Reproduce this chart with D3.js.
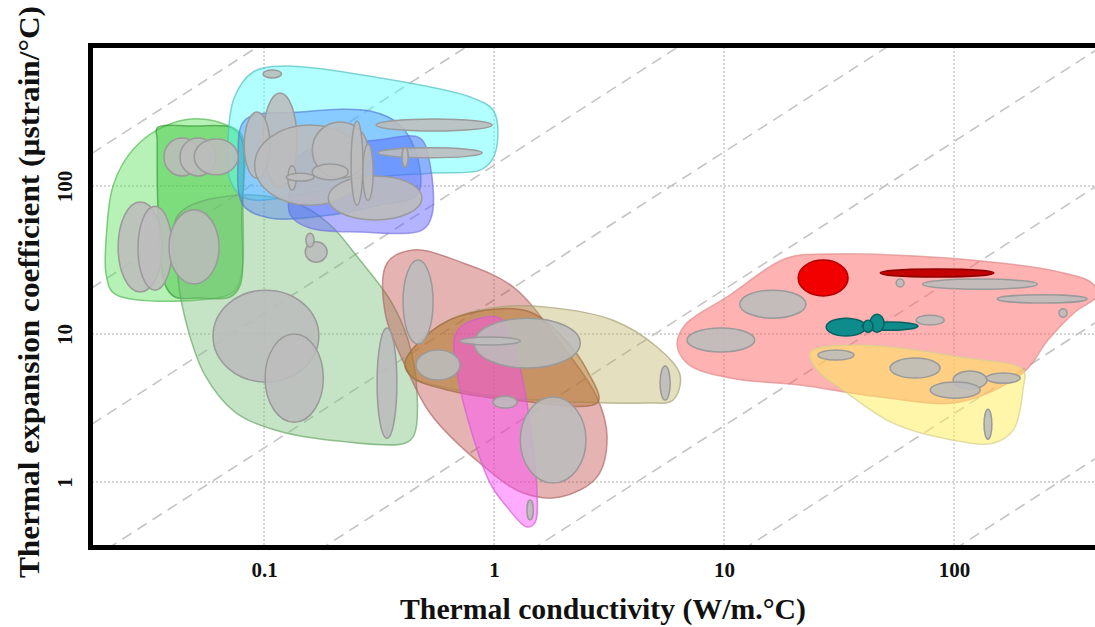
<!DOCTYPE html>
<html>
<head>
<meta charset="utf-8">
<script src="https://cdn.jsdelivr.net/npm/d3@7"></script>
<style>
body { margin:0; background:#fff; }
text { font-family:"Liberation Serif","Times New Roman",serif; font-weight:bold; fill:#111; }
</style>
</head>
<body>
<div id="chart"></div>
<script>
var W = 1095, H = 627;
var margin = {left:92, top:47, right:-5, bottom:81};

// ---- data ----
var xTicks = [0.1, 1, 10, 100];
var yTicks = [1, 10, 100];
var xTitle = "Thermal conductivity (W/m.\u00B0C)";
var yTitle = "Thermal expansion coefficient (\u00B5strain/\u00B0C)";

// guide lines: expansion / conductivity = const
var guideRatios = [9300, 1150, 138, 17, 2.0, 0.24, 0.029, 0.0035];

// envelopes, points [conductivity, expansion]
var envFoam = [[0.0207,50.4],[0.0218,94],[0.0249,150],[0.0304,211],[0.0402,267],[0.0527,284],[0.069,258],[0.080,221],[0.081,80.4],[0.0787,23.2],[0.0711,18.6],[0.0225,18.6],[0.0206,25.0]];
var envFoamCore = [[0.0343,247],[0.0501,254],[0.0726,247],[0.080,205],[0.080,63.7],[0.0787,21.4],[0.0711,17.8],[0.0527,17.5],[0.041,17.8],[0.0372,21.4],[0.0346,68.9],[0.0343,205]];
var envPolymer = [[0.0423,63.7],[0.0787,86.9],[0.1435,74.4],[0.194,54.5],[0.261,31.6],[0.353,17.0],[0.423,9.1],[0.462,4.19],[0.449,2.08],[0.410,1.83],[0.194,1.92],[0.1117,2.25],[0.0748,2.97],[0.0553,5.28],[0.0468,10.6],[0.0423,23.2]];
var envCyan = [[0.0697,205],[0.0741,393],[0.0896,589],[0.123,647],[0.319,537],[0.787,399],[0.99,326],[1.04,221],[0.98,150],[0.869,128],[0.527,122],[0.289,113],[0.1435,86.9],[0.0826,83],[0.0711,110]];
var envBlue = [[0.0826,279],[0.1435,316],[0.289,321],[0.390,258],[0.468,150],[0.462,86.9],[0.319,74.4],[0.194,63.7],[0.106,60.8],[0.081,74.4],[0.0771,150]];
var envLavender = [[0.1435,162],[0.319,205],[0.476,211],[0.527,139],[0.537,63.7],[0.486,50.4],[0.261,48.9],[0.158,52.0],[0.130,63.7],[0.132,110]];
var envCeramic = [[0.336,13.9],[0.343,30.2],[0.445,37.0],[0.733,30.2],[1.21,20.8],[2.0,8.17],[2.80,3.75],[3.10,2.01],[2.80,1.08],[1.94,0.792],[1.34,0.843],[0.869,1.34],[0.527,2.92],[0.419,5.71]];
var envOlive = [[0.410,6.47],[0.612,12.05],[1.03,15.2],[1.70,15.2],[3.29,12.4],[5.11,8.17],[6.44,5.28],[6.00,3.58],[4.62,3.42],[1.21,3.69],[0.625,4.32],[0.440,5.12]];
var envBrown = [[0.410,6.47],[0.582,11.5],[0.914,14.5],[1.435,14.1],[2.04,9.1],[2.56,5.53],[2.83,3.47],[1.21,3.58],[0.625,4.19],[0.440,5.12]];
var envMagenta = [[0.676,9.84],[0.771,12.05],[1.06,12.8],[1.20,9.1],[1.39,3.42],[1.54,0.792],[1.51,0.537],[1.39,0.497],[1.12,0.70],[0.96,0.985],[0.764,2.75],[0.690,5.53]];
var envMetal = [[6.25,8.43],[6.76,11.5],[10.3,17.8],[18.8,32.6],[28.9,34.7],[106,32.1],[289,26.2],[398,22.1],[423,18.4],[336,14.1],[256,9.1],[201,5.53],[106,3.47],[47.7,3.75],[21.4,4.52],[10.6,5.04],[6.97,6.27]];
var envYellow = [[23.7,7.56],[39.0,8.43],[106,7.0],[200,5.71],[200,4.38],[181,2.25],[148,1.83],[99,1.92],[54.3,2.50],[34.3,3.99],[25.4,5.71]];

// bubbles [k min, k max, alpha min, alpha max]
var bubblesGray = [
  [0.099,0.119,537,608],[0.099,0.139,98,425],[0.082,0.106,113,316],[0.091,0.275,74,258],
  [0.19,0.486,59,117],[0.162,0.283,113,271],[0.307,0.98,235,284],[0.313,0.887,155,181],
  [0.239,0.269,74,275],[0.269,0.298,80,192],[0.398,0.423,134,183],[0.127,0.138,94,137],
  [0.162,0.232,110,141],[0.125,0.165,108,122],
  [0.0367,0.0527,117,211],[0.0431,0.0618,117,211],[0.0497,0.0771,119,208],
  [0.0232,0.0361,19.2,78],[0.0283,0.0398,19.8,73],[0.0386,0.0637,21.8,69],
  [0.151,0.188,30.6,42],[0.152,0.165,38.7,48],[0.060,0.173,4.74,19.8],[0.101,0.181,2.54,10],
  [0.31,0.378,1.98,11.0],
  [0.402,0.543,8.56,31.6],[0.458,0.711,4.89,7.8],[0.818,2.37,5.89,12.8],[0.711,1.30,8.43,9.55],
  [0.99,1.26,3.16,3.81],[1.30,2.51,0.985,3.75],[1.39,1.48,0.554,0.756],[5.27,5.83,3.58,6.08],
  [11.7,22.7,12.8,19.8],[6.9,13.6,7.56,11.0],[73,230,20.1,23.5],[56,60.6,20.8,23.5],
  [154,379,16.2,18.4],[286,310,13.0,14.8],[68.4,90.5,11.5,13.4],[25.6,36.7,6.67,7.8],
  [52.7,86.9,5.04,6.89],[99,139,4.25,5.62],[78.7,130,3.69,4.74],[138,194,4.66,5.45],
  [135,146,1.95,3.11]
];
var bubblesRed = [[21.0,34.6,18.1,31.6]];
var bubblesDarkRed = [[47.7,149,24.3,27.5]];
var bubblesTeal = [[27.8,41.4,9.7,12.8],[39.8,69.7,10.6,12.05],[43.1,49.6,10.3,13.6],[40.2,44.4,10.3,12.4]];

// ---- drawing ----
var svg = d3.select("#chart").append("svg")
    .attr("width", W)
    .attr("height", H);

var x = d3.scaleLog().domain([0.01786, 431]).range([0, 1008]);
var y = d3.scaleLog().domain([0.37, 869]).range([499, 0]);

var g = svg.append("g")
    .attr("transform", "translate(" + margin.left + "," + margin.top + ")");

g.append("clipPath").attr("id", "plotclip")
  .append("rect").attr("x", 0).attr("y", 0).attr("width", 1008).attr("height", 499);

var plot = g.append("g").attr("clip-path", "url(#plotclip)");

// grid
plot.selectAll(".vgrid").data(xTicks).enter().append("line")
    .attr("x1", function(d){ return x(d); }).attr("x2", function(d){ return x(d); })
    .attr("y1", 0).attr("y2", 499)
    .style("stroke", "#c8c8c8").style("stroke-width", 1.5).style("stroke-dasharray", "2,2");
plot.selectAll(".hgrid").data(yTicks).enter().append("line")
    .attr("y1", function(d){ return y(d); }).attr("y2", function(d){ return y(d); })
    .attr("x1", 0).attr("x2", 1008)
    .style("stroke", "#c8c8c8").style("stroke-width", 1.5).style("stroke-dasharray", "2,2");

// guide lines
var kd = x.domain();
plot.selectAll(".guide").data(guideRatios).enter().append("line")
    .attr("x1", x(kd[0])).attr("x2", x(kd[1]))
    .attr("y1", function(r){ return y(r * kd[0]); })
    .attr("y2", function(r){ return y(r * kd[1]); })
    .style("stroke", "#c4c4c4").style("stroke-width", 1.6).style("stroke-dasharray", "11,7");

// envelopes
var hull = d3.line()
    .x(function(d){ return x(d[0]); })
    .y(function(d){ return y(d[1]); })
    .curve(d3.curveCatmullRomClosed.alpha(0.5));

var envelopes = [
  {pts: envFoam,     fill: "#5ee35e", op: 0.45, stroke: "#55b855"},
  {pts: envFoamCore, fill: "#2fc02f", op: 0.42, stroke: "#3a9a3a"},
  {pts: envPolymer,  fill: "#7fc47f", op: 0.45, stroke: "#6aa86a"},
  {pts: envCyan,     fill: "#55ffff", op: 0.45, stroke: "#55c0c0"},
  {pts: envLavender, fill: "#6060ff", op: 0.48, stroke: "#7777dd"},
  {pts: envBlue,     fill: "#3a70ff", op: 0.36, stroke: "#5a80d0"},
  {pts: envCeramic,  fill: "#c04040", op: 0.4,  stroke: "#b06a6a"},
  {pts: envOlive,    fill: "#b8b060", op: 0.4,  stroke: "#aaa278"},
  {pts: envBrown,    fill: "#b05a10", op: 0.35, stroke: "#a06a40"},
  {pts: envMagenta,  fill: "#ff44ff", op: 0.45, stroke: "#d060d0"},
  {pts: envMetal,    fill: "#ff6666", op: 0.5,  stroke: "#e08c8c"},
  {pts: envYellow,   fill: "#ffee55", op: 0.5,  stroke: "#d6d090"}
];

plot.selectAll(".env").data(envelopes).enter().append("path")
    .attr("class", "env")
    .attr("d", function(d){ return hull(d.pts); })
    .style("fill", function(d){ return d.fill; })
    .style("fill-opacity", function(d){ return d.op; })
    .style("stroke", function(d){ return d.stroke; })
    .style("stroke-opacity", 0.7)
    .style("stroke-width", 1.5);

// bubbles
function drawBubbles(data, fill, stroke, op) {
  plot.selectAll(null).data(data).enter().append("ellipse")
      .attr("cx", function(d){ return x(Math.sqrt(d[0] * d[1])); })
      .attr("cy", function(d){ return y(Math.sqrt(d[2] * d[3])); })
      .attr("rx", function(d){ return (x(d[1]) - x(d[0])) / 2; })
      .attr("ry", function(d){ return (y(d[2]) - y(d[3])) / 2; })
      .style("fill", fill)
      .style("fill-opacity", op)
      .style("stroke", stroke)
      .style("stroke-width", 1.5);
}
drawBubbles(bubblesGray, "#bcbcbc", "#9a9a9a", 0.88);
drawBubbles(bubblesRed, "#f20000", "#b00000", 1);
drawBubbles(bubblesDarkRed, "#c40000", "#900000", 1);
drawBubbles(bubblesTeal, "#0e8c8c", "#066060", 1);

// axes
var xAxis = d3.axisBottom(x).tickValues(xTicks).tickFormat(d3.format("~g")).tickSize(0).tickPadding(16);
var yAxis = d3.axisLeft(y).tickValues(yTicks).tickFormat(d3.format("~g")).tickSize(0);

var gx = g.append("g").attr("transform", "translate(0,499)").call(xAxis);
gx.select(".domain").remove();
gx.selectAll("text").style("font-size", "21px").style("font-family", "Liberation Serif, serif")
    .style("font-weight", "bold").attr("fill", "#111");

var gy = g.append("g").call(yAxis);
gy.select(".domain").remove();
gy.selectAll("text")
    .attr("transform", "rotate(-90)")
    .attr("x", 0).attr("y", -20).attr("dy", 0)
    .style("text-anchor", "middle")
    .style("font-size", "21px").style("font-family", "Liberation Serif, serif")
    .style("font-weight", "bold").attr("fill", "#111");

// frame
g.append("rect")
    .attr("x", -1.5).attr("y", -1.5)
    .attr("width", 1030).attr("height", 502)
    .style("fill", "none").style("stroke", "#000").style("stroke-width", 5);

// titles
svg.append("text")
    .attr("x", 603).attr("y", 619)
    .style("text-anchor", "middle").style("font-size", "30px")
    .attr("textLength", 406).attr("lengthAdjust", "spacingAndGlyphs")
    .text(xTitle);

svg.append("text")
    .attr("transform", "translate(39,292) rotate(-90)")
    .style("text-anchor", "middle").style("font-size", "30px")
    .attr("textLength", 572).attr("lengthAdjust", "spacingAndGlyphs")
    .text(yTitle);
</script>
</body>
</html>
